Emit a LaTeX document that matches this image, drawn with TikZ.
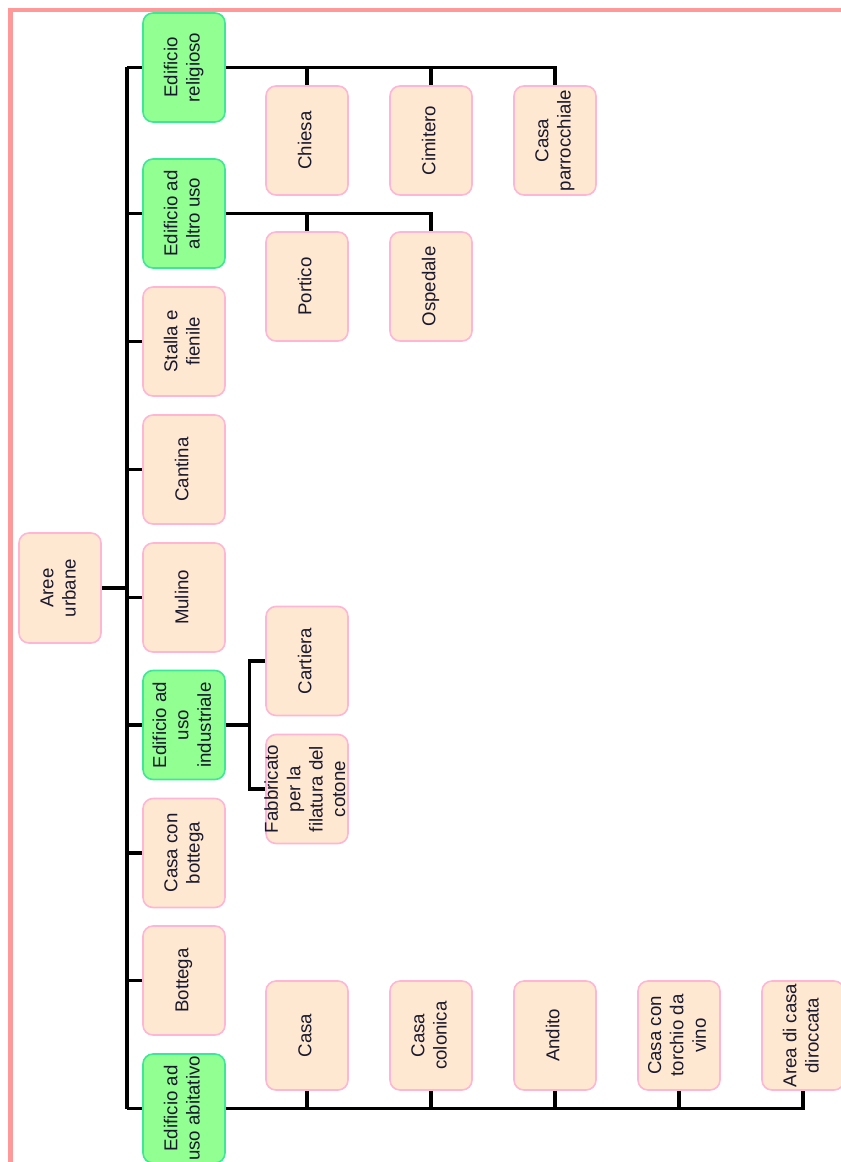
\documentclass[tikz,border=0pt]{standalone}
\usepackage{fontspec}
\setmainfont{Liberation Sans}
\usepackage{graphicx}
\definecolor{frame}{RGB}{255,153,153}
\definecolor{gfill}{RGB}{146,255,146}
\definecolor{gline}{RGB}{60,232,150}
\definecolor{ofill}{RGB}{255,232,210}
\definecolor{oline}{RGB}{255,182,212}
\definecolor{txt}{RGB}{25,25,45}
\newcommand\rottext[1]{\rotatebox{90}{\begin{tabular}{@{}c@{}}#1\end{tabular}}}
\newcommand\rottextz[1]{\makebox[0pt]{\rotatebox{90}{\begin{tabular}{@{}c@{}}#1\end{tabular}}}}
\begin{document}
\begin{tikzpicture}[x=0.75pt,y=-0.75pt,
  box/.style={rounded corners=7.5pt, minimum width=61.5pt, minimum height=81.75pt,
    inner sep=0pt, line width=1.2pt, text=txt,
    font=\fontsize{14pt}{16.8pt}\selectfont},
  gbox/.style={box, fill=gfill, draw=gline},
  obox/.style={box, fill=ofill, draw=oline},
  conn/.style={line width=2.3pt, black},
  thickconn/.style={line width=3.4pt, black}]
\useasboundingbox (0,0) rectangle (841,1162);
\clip (0,0) rectangle (841,1162);
\fill[white] (0,0) rectangle (841,1162);
\draw[frame, line width=3.6pt] (10.5,10) rectangle (900,1220);

% root
\node[obox, minimum height=82.5pt] (root) at (60,588) {\rottext{Aree\\urbane}};

% level 1
\node[gbox] (rel)  at (184,67.5)  {\rottext{Edificio\\religioso}};
\node[gbox] (alt)  at (184,213.5) {\rottext{Edificio ad\\altro uso}};
\node[obox] (stal) at (184,341.5) {\rottext{Stalla e\\fienile}};
\node[obox] (cant) at (184,469.5) {\rottext{Cantina}};
\node[obox] (mul)  at (184,597.5) {\rottext{Mulino}};
\node[gbox] (ind)  at (184,725)   {\rottext{Edificio ad\\uso\\industriale}};
\node[obox] (ccb)  at (184,853)   {\rottext{Casa con\\bottega}};
\node[obox] (bot)  at (184,980.5) {\rottext{Bottega}};
\node[gbox] (abit) at (184,1108.5){\rottextz{Edificio ad\\uso abitativo}};

% religioso children
\node[obox] (chiesa) at (307,140.5) {\rottext{Chiesa}};
\node[obox] (cimi)   at (431,140.5) {\rottext{Cimitero}};
\node[obox] (parr)   at (555,140.5) {\rottext{Casa\\parrocchiale}};

% altro uso children
\node[obox] (port) at (307,286.5) {\rottext{Portico}};
\node[obox] (osp)  at (431,286.5) {\rottext{Ospedale}};

% industriale children
\node[obox] (cart) at (307,661) {\rottext{Cartiera}};
\node[obox] (fab)  at (307,789) {\rottextz{Fabbricato\\per la\\filatura del\\cotone}};

% abitativo children
\node[obox] (casa)  at (307,1035.5) {\rottext{Casa}};
\node[obox] (colon) at (431,1035.5) {\rottext{Casa\\colonica}};
\node[obox] (andi)  at (555,1035.5) {\rottext{Andito}};
\node[obox] (torc)  at (679,1035.5) {\rottext{Casa con\\torchio da\\vino}};
\node[obox] (dir)   at (803,1035.5) {\rottext{Area di casa\\diroccata}};

% trunk
\coordinate (tk) at (127,0);
\draw[conn] (tk |- rel.west) -- (tk |- abit.west);
\foreach \n in {rel,alt,stal,cant,mul,ind,ccb,bot,abit}
  \draw[conn] (tk |- \n.west) -- (\n.west);
\draw[thickconn] (root.east) -- (tk |- root.east);

% religioso branch
\draw[conn] (rel.east) -| (parr.north);
\foreach \n in {chiesa,cimi}
  \draw[conn] (\n.north) -- (\n.north |- rel.east);

% altro uso branch
\draw[conn] (alt.east) -| (osp.north);
\draw[conn] (port.north) -- (port.north |- alt.east);

% industriale branch
\draw[thickconn] (ind.east) -- ++(24,0) coordinate (ib);
\draw[conn] (cart.west) -- (ib |- cart.west) -- (ib |- fab.west) -- (fab.west);

% abitativo branch
\draw[conn] (abit.east) -| (dir.south);
\foreach \n in {casa,colon,andi,torc}
  \draw[conn] (\n.south) -- (\n.south |- abit.east);
\end{tikzpicture}
\end{document}
